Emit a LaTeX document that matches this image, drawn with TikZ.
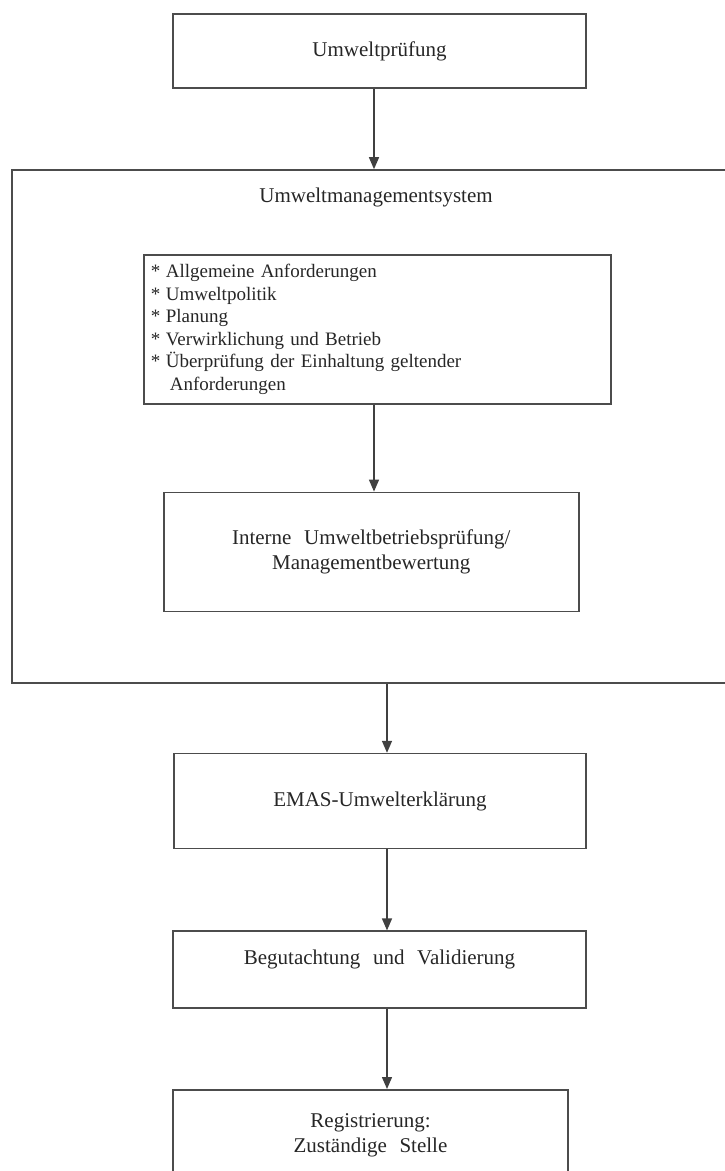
\documentclass[tikz,border=0pt]{standalone}
\usepackage{fontspec}
\setmainfont{Liberation Serif}
\newfontfamily\wfont[WordSpace=2.4]{Liberation Serif}
\usetikzlibrary{positioning,calc,arrows.meta}
\tikzset{ebox/.style={draw=black!70, line width=1.6pt, text=black!85, inner sep=0pt, align=center, font=\wfont\fontsize{21}{25}\selectfont}}
\tikzset{lbox/.style={ebox, align=left, inner xsep=7pt, font=\rmfamily\fontsize{19}{22.6}\selectfont}}
\tikzset{arr/.style={draw=black!75, line width=1.4pt, -{Triangle[length=12pt,width=10pt]}}}
\newcommand{\itm}{\makebox[15pt][l]{*}}

\begin{document}
\begin{tikzpicture}[x=1pt, y=-1pt]
		\useasboundingbox (0,0) rectangle (724,1171);
		\coordinate (colA) at (374,0);
		\coordinate (colB) at (387,0);
		\node[ebox, minimum width=413pt, minimum height=74pt] (P) at (379.5,51) {Umweltprüfung};
		\node[ebox, minimum width=728pt, minimum height=513pt,
			label={[ebox, draw=none, anchor=center, yshift=-28pt]north:Umweltmanagementsystem}] (UMS) at (376,426.5) {};
		\node[lbox, text width=453pt, minimum height=149pt, anchor=north west] (L) at (143,254)
			{\itm Allgemeine Anforderungen\\
			\itm Umweltpolitik\\
			\itm Planung\\
			\itm Verwirklichung und Betrieb\\
			\itm Überprüfung der Einhaltung geltender\\
			\hspace*{19pt}Anforderungen};
		\node[ebox, minimum width=415pt, minimum height=119pt, below=87pt of L.south, xshift=-6pt] (I)
			{Interne Umweltbetriebsprüfung/\\Managementbewertung};
		\node[ebox, minimum width=412pt, minimum height=95pt, below=69pt of UMS.south, xshift=4pt] (E)
			{EMAS-Umwelterklärung};
		\node[ebox, minimum width=413pt, minimum height=77pt, below=81pt of E.south, xshift=-0.5pt] (B)
			{Begutachtung und Validierung\\\mbox{}};
		\node[ebox, minimum width=395pt, minimum height=91pt, below=80pt of B.south, xshift=-9pt] (R)
			{Registrierung:\\Zuständige Stelle};
		% connectors
		\draw[arr] (P.south -| colA) -- (UMS.north -| colA);
		\draw[arr] (L.south -| colA) -- (I.north -| colA);
		\draw[arr] (UMS.south -| colB) -- (E.north -| colB);
		\draw[arr] (E.south -| colB) -- (B.north -| colB);
		\draw[arr] (B.south -| colB) -- (R.north -| colB);
	\end{tikzpicture}
\end{document}
